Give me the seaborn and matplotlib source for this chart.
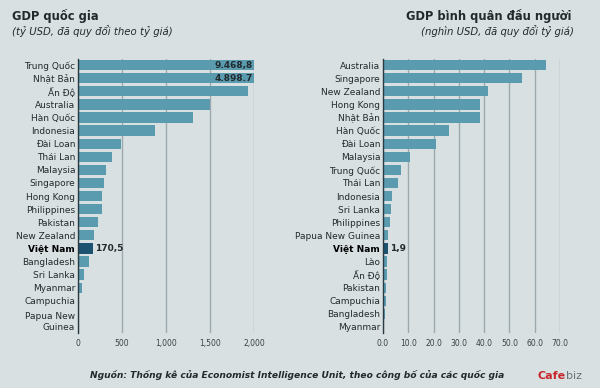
import matplotlib
matplotlib.use("Agg")
import matplotlib.pyplot as plt
import matplotlib.transforms as mtransforms
import pandas as pd
import seaborn as sns


# GDP quoc gia (ty USD)
gdp_countries = [
    "Trung Quốc", "Nhật Bản", "Ấn Độ", "Australia", "Hàn Quốc", "Indonesia",
    "Đài Loan", "Thái Lan", "Malaysia", "Singapore", "Hong Kong", "Philippines",
    "Pakistan", "New Zealand", "Việt Nam", "Bangladesh", "Sri Lanka", "Myanmar",
    "Campuchia", "Papua New\nGuinea",
]
gdp_values = [
    9468.8, 4898.7, 1928, 1500, 1307, 872,
    493, 386, 315, 300, 273, 273,
    232, 182, 170.5, 125, 65, 42,
    15, 8,
]
gdp_labels = {"Trung Quốc": "9.468,8", "Nhật Bản": "4.898.7", "Việt Nam": "170,5"}
gdp_ticks = [0, 500, 1000, 1500, 2000]
gdp_ticklabels = ["0", "500", "1,000", "1,500", "2,000"]

# GDP binh quan dau nguoi (nghin USD)
pc_countries = [
    "Australia", "Singapore", "New Zealand", "Hong Kong", "Nhật Bản", "Hàn Quốc",
    "Đài Loan", "Malaysia", "Trung Quốc", "Thái Lan", "Indonesia", "Sri Lanka",
    "Philippines", "Papua New Guinea", "Việt Nam", "Lào", "Ấn Độ", "Pakistan",
    "Campuchia", "Bangladesh", "Myanmar",
]
pc_values = [
    64.4, 54.9, 41.5, 38.3, 38.3, 26.0,
    21.0, 10.7, 7.0, 5.9, 3.6, 3.2,
    2.8, 2.1, 1.9, 1.6, 1.6, 1.2,
    1.1, 0.8, 0.6,
]
pc_labels = {"Việt Nam": "1,9"}
pc_ticks = [0, 10, 20, 30, 40, 50, 60, 70]
pc_ticklabels = ["0.0", "10.0", "20.0", "30.0", "40.0", "50.0", "60.0", "70.0"]

HIGHLIGHT = "Việt Nam"
BG = "#d8e0e2"
BAR = "#5b9bb0"
BAR_HL = "#1d5270"
GRID = "#9ea9ad"
TEXT = "#222a2e"


def draw_panel(ax, countries, values, labels, ticks, ticklabels, xmax):
    df = pd.DataFrame({"country": countries, "value": values})
    df["group"] = ["hl" if c == HIGHLIGHT else "base" for c in countries]

    sns.barplot(
        data=df,
        x="value",
        y="country",
        hue="group",
        palette={"base": BAR, "hl": BAR_HL},
        dodge=False,
        legend=False,
        width=0.78,
        saturation=1,
        linewidth=0,
        ax=ax,
        zorder=3,
    )

    ax.set_facecolor(BG)
    ax.set_xlim(0, xmax)
    ax.set_ylim(20.5, -0.5)
    ax.set_xticks(ticks)
    ax.set_xticklabels(ticklabels)
    ax.set_xlabel("")
    ax.set_ylabel("")
    ax.grid(axis="x", color=GRID, linewidth=1, zorder=0)
    ax.grid(axis="y", visible=False)
    for side in ["top", "right", "bottom"]:
        ax.spines[side].set_visible(False)
    ax.spines["left"].set_color("#2b3a40")
    ax.spines["left"].set_linewidth(1)
    ax.spines["left"].set_zorder(4)

    ax.tick_params(axis="x", length=0, labelsize=5.5, labelcolor="#3a4246", pad=4)
    ax.tick_params(axis="y", length=0, labelsize=6.5, labelcolor=TEXT, pad=2)

    for lbl in ax.get_yticklabels():
        if lbl.get_text() == HIGHLIGHT:
            lbl.set_fontweight("bold")
            lbl.set_color("black")

    for i, c in enumerate(countries):
        if c not in labels:
            continue
        v = values[i]
        if v > xmax:
            ax.text(xmax * 0.995, i, labels[c], ha="right", va="center",
                    fontsize=6.5, fontweight="bold", color=TEXT, zorder=5)
        else:
            ax.text(v + xmax * 0.012, i, labels[c], ha="left", va="center",
                    fontsize=6.5, fontweight="bold", color=TEXT, zorder=5)


sns.set_theme(style="white")
plt.rcParams["font.family"] = ["DejaVu Sans"]

fig = plt.figure(figsize=(6.0, 3.88), dpi=100)
fig.patch.set_facecolor(BG)

ax1 = fig.add_axes([0.130, 0.1405, 0.2935, 0.7085])
ax2 = fig.add_axes([0.6383, 0.1405, 0.2950, 0.7085])

draw_panel(ax1, gdp_countries, gdp_values, gdp_labels, gdp_ticks, gdp_ticklabels, 2000)
draw_panel(ax2, pc_countries, pc_values, pc_labels, pc_ticks, pc_ticklabels, 70)

# the two-line label sits half a row lower, as in the original
for lbl in ax1.get_yticklabels():
    if lbl.get_text().startswith("Papua"):
        lbl.set_transform(lbl.get_transform() + mtransforms.ScaledTranslation(0, -0.065, fig.dpi_scale_trans))

fig.text(12 / 600, 1 - 16 / 388, "GDP quốc gia", fontsize=8.3, fontweight="bold",
         color=TEXT, ha="left", va="center")
fig.text(12 / 600, 1 - 31 / 388, "(tỷ USD, đã quy đổi theo tỷ giá)", fontsize=7.3,
         style="italic", color=TEXT, ha="left", va="center")
fig.text(572 / 600, 1 - 16 / 388, "GDP bình quân đầu người", fontsize=8.3,
         fontweight="bold", color=TEXT, ha="right", va="center")
fig.text(574 / 600, 1 - 31 / 388, "(nghìn USD, đã quy đổi tỷ giá)", fontsize=7.3,
         style="italic", color=TEXT, ha="right", va="center")

fig.text(297 / 600, 1 - 375 / 388,
         "Nguồn: Thống kê của Economist Intelligence Unit, theo công bố của các quốc gia",
         fontsize=6.6, fontweight="bold", style="italic", color=TEXT,
         ha="center", va="center")

fig.text(566 / 600, 1 - 376 / 388, "Cafe", fontsize=8, fontweight="bold",
         color="#c8282d", ha="right", va="center")
fig.text(566 / 600, 1 - 376 / 388, "biz", fontsize=8, color="#6a7478",
         ha="left", va="center")

fig.savefig("out.png", dpi=100, facecolor=BG)
